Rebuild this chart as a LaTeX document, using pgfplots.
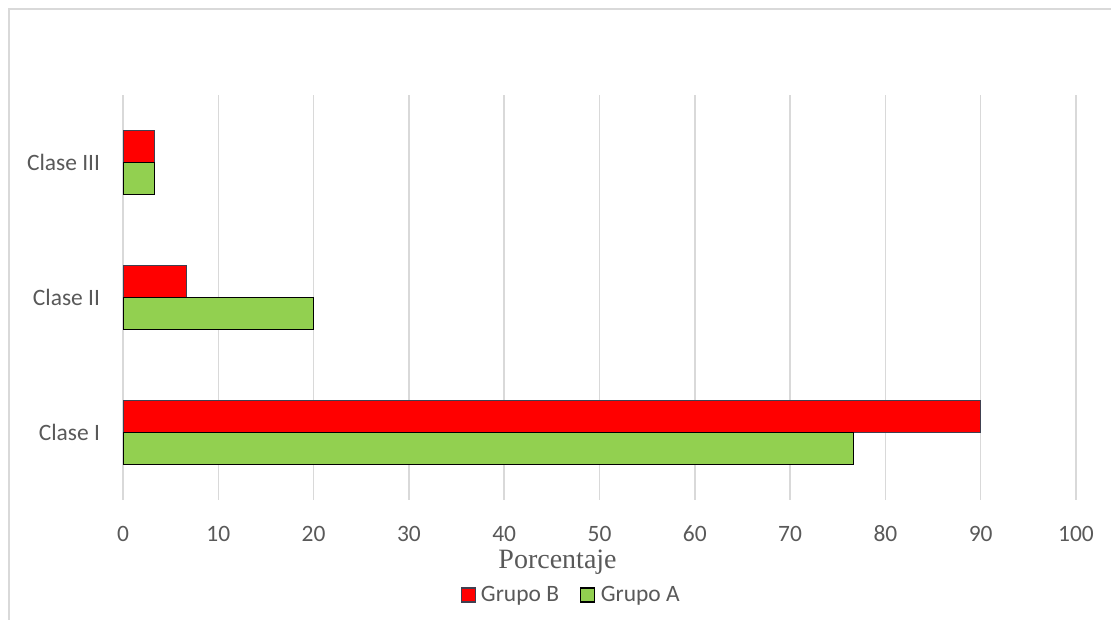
\documentclass[border=0pt]{standalone}
\usepackage{fontspec}
\setmainfont{Carlito}
\newfontfamily\serifface{Liberation Serif}
\usepackage{pgfplots}
\pgfplotsset{compat=1.18}
\definecolor{gridgray}{HTML}{D9D9D9}
\definecolor{txtgray}{HTML}{595959}
\definecolor{barred}{HTML}{FF0000}
\definecolor{bargreen}{HTML}{92D050}
\definecolor{edgered}{HTML}{404050}
\begin{document}
\begin{tikzpicture}
\path[use as bounding box] (0,0) rectangle (833.25pt,465pt);
\draw[gridgray, line width=1.1pt] (6.75pt,0) -- (6.75pt,458.25pt) -- (833.25pt,458.25pt);
\begin{axis}[
  at={(92.25pt,90pt)}, anchor=south west,
  scale only axis,
  width=714.75pt, height=303.75pt,
  xmin=0, xmax=100, ymin=-0.5, ymax=2.5,
  xtick={0,10,...,100},
  ytick={0,1,2},
  yticklabels={Clase I, Clase II, Clase III},
  xmajorgrids, ymajorgrids=false,
  grid style={gridgray, line width=1.1pt},
  axis line style={draw=none},
  major tick length=0pt,
  tick style={draw=none},
  /pgf/number format/assume math mode=true,
  ticklabel style={font=\fontsize{17.6}{21}\selectfont, text=txtgray},
  xticklabel style={anchor=base, yshift=-31.5pt},
  yticklabel style={anchor=east, inner sep=0pt, xshift=-17pt},
  xlabel={Porcentaje},
  every axis x label/.style={at={(axis description cs:0.456,-0.168)}, anchor=base,
    font=\serifface\fontsize{21}{24}\selectfont, text=txtgray},
  xbar, bar width=0.24,
  legend style={draw=none, fill=none, at={(axis description cs:0.472,-0.2346)}, anchor=center,
    font=\fontsize{17.6}{21}\selectfont, text=txtgray, legend columns=2,
    /tikz/every even column/.append style={column sep=12pt},
    inner sep=0pt, nodes={inner xsep=4pt, inner ysep=0pt}},
  legend image code/.code={\draw[#1, line width=0.8pt] (0pt,-5.25pt) rectangle (10.5pt,5.25pt);},
]
\addplot[fill=barred, draw=edgered, line width=0.8pt, bar shift=0.12] coordinates {(90,0) (6.7,1) (3.3,2)};
\addlegendentry{Grupo B}
\addplot[fill=bargreen, draw=black, line width=0.8pt, bar shift=-0.12] coordinates {(76.7,0) (20,1) (3.3,2)};
\addlegendentry{Grupo A}
\end{axis}
\end{tikzpicture}
\end{document}
